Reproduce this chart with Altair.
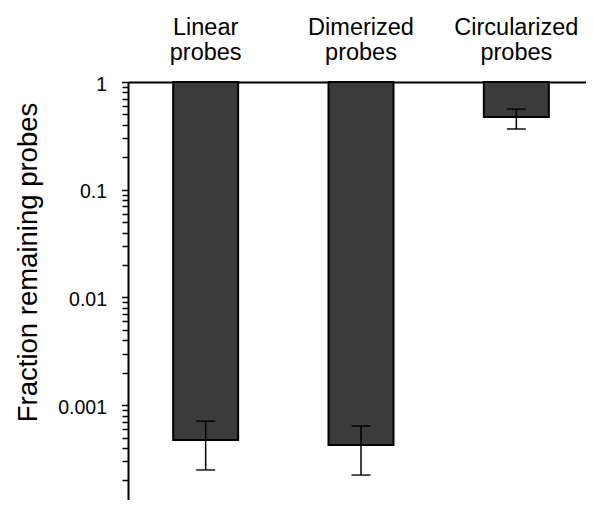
import altair as alt
import pandas as pd

categories = ["Linear probes", "Dimerized probes", "Circularized probes"]
values = [4.74e-4, 4.26e-4, 0.473]
err_low = [2.5e-4, 2.24e-4, 0.366]
err_high = [7.1e-4, 6.4e-4, 0.56]
bar_top = [1, 1, 1]

major_ticks = [1, 0.1, 0.01, 0.001]
minor_ticks = [m * 10.0 ** e for e in (-4, -3, -2, -1) for m in range(2, 10)]

df = pd.DataFrame({
    "cat": categories,
    "value": values,
    "lo": err_low,
    "hi": err_high,
    "top": bar_top,
})

FONT = "Liberation Sans"
yscale = alt.Scale(type="log", domain=[1.315e-4, 1])
xenc = alt.X(
    "cat:N",
    sort=categories,
    scale=alt.Scale(paddingInner=0, paddingOuter=0, range=[0, 466]),
    axis=alt.Axis(
        orient="top", title=None, ticks=False, labelAngle=0,
        labelExpr="split(datum.value, ' ')", labelFontSize=23.5, labelFont=FONT,
        labelColor="black", labelLineHeight=25, labelPadding=43,
        domainColor="black", domainWidth=2,
    ),
)

base = alt.Chart(df)

bars = base.mark_bar(size=65, fill="#3b3b3b", stroke="black", strokeWidth=2).encode(
    x=xenc,
    y=alt.Y(
        "value:Q", scale=yscale,
        axis=alt.Axis(
            orient="left", values=major_ticks, format="~g", grid=False,
            tickSize=6.5, tickWidth=1.5, tickColor="black",
            labelFontSize=19.5, labelFont=FONT, labelColor="black", labelPadding=15,
            labelOffset=2,
            domainColor="black", domainWidth=2,
            title="Fraction remaining probes", titleFont=FONT, titleFontSize=27.5,
            titleFontWeight="normal", titleColor="black", titleAngle=-90,
            titleX=-92, titleY=180, titleAlign="center", titleBaseline="alphabetic",
        ),
    ),
    y2="top:Q",
)

minor = base.mark_rule(stroke="black", strokeWidth=1.5).encode(
    x=xenc,
    y=alt.Y(
        "lo:Q", scale=yscale,
        axis=alt.Axis(
            orient="left", values=minor_ticks, labels=False, title=None, grid=False,
            tickSize=6, tickWidth=1.5, tickColor="black", domain=False,
        ),
    ),
    y2="hi:Q",
)

caps_lo = base.mark_tick(size=19, thickness=2, color="black").encode(
    x=xenc, y=alt.Y("lo:Q", scale=yscale, axis=None)
)
caps_hi = base.mark_tick(size=19, thickness=2, color="black").encode(
    x=xenc, y=alt.Y("hi:Q", scale=yscale, axis=None)
)

chart = (
    alt.layer(bars, minor, caps_lo, caps_hi)
    .resolve_axis(y="independent")
    .properties(
        width=458, height=418,
        autosize=alt.AutoSizeParams(type="none"),
        padding={"left": 120, "top": 74, "right": 0, "bottom": 0},
    )
    .configure_view(stroke=None)
    .configure(background="white")
)

chart.save("out.html", embed_options={"renderer": "svg", "actions": False})
